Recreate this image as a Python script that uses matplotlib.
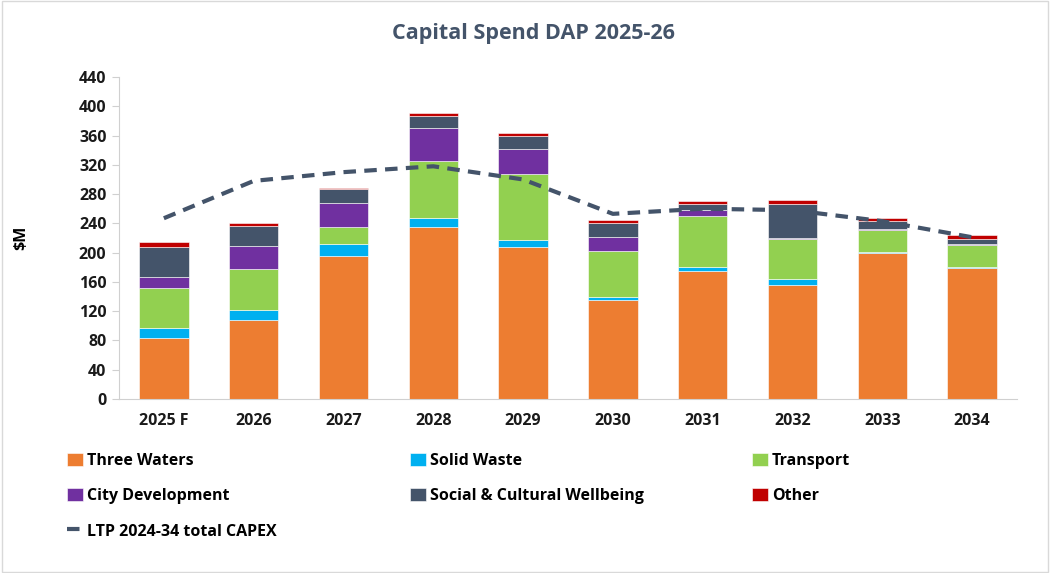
import matplotlib.pyplot as plt
import numpy as np
from matplotlib.patches import Rectangle

plt.rcParams['font.family'] = ['Open Sans', 'DejaVu Sans']

years = ["2025 F", "2026", "2027", "2028", "2029", "2030", "2031", "2032", "2033", "2034"]
three_waters = [84, 108, 196, 235, 208, 135, 175, 156, 200, 179]
solid_waste = [13, 13, 16, 13, 9, 5, 6, 8, 1, 1]
transport = [55, 57, 23, 77, 91, 62, 69, 55, 30, 31]
city_dev = [15, 31, 33, 46, 33, 19, 8, 1, 1, 1]
social = [41, 28, 19, 16, 18, 19, 9, 47, 11, 7]
other = [6, 4, 2, 4, 4, 5, 4, 5, 4, 5]
ltp_total = [247, 298, 310, 318, 300, 253, 260, 258, 243, 221]

series = [
    ("Three Waters", three_waters, "#ED7D31"),
    ("Solid Waste", solid_waste, "#00B0F0"),
    ("Transport", transport, "#92D050"),
    ("City Development", city_dev, "#7030A0"),
    ("Social & Cultural Wellbeing", social, "#44546A"),
    ("Other", other, "#C00000"),
]

fig = plt.figure(figsize=(10.5, 5.73), dpi=100)
ax = fig.add_axes([0.1133, 0.3037, 0.8553, 0.5619])

x = np.arange(len(years))
bottom = np.zeros(len(years))
handles = {}
for name, vals, color in series:
    b = ax.bar(x, vals, width=0.55, bottom=bottom, color=color, label=name,
               edgecolor="white", linewidth=0.4)
    handles[name] = b
    bottom += np.array(vals)

line, = ax.plot(x, ltp_total, color="#44546A", linestyle=(0, (3, 2)), lw=3,
                label="LTP 2024-34 total CAPEX")

ax.set_xlim(-0.5, len(years) - 0.5)
ax.set_ylim(0, 440)
ax.set_yticks(np.arange(0, 441, 40))
ax.set_xticks(x)
ax.set_xticklabels(years)
for lab in ax.get_xticklabels() + ax.get_yticklabels():
    lab.set_fontweight("bold")
    lab.set_fontsize(11.5)
    lab.set_color("#1a1a1a")
ax.tick_params(axis="x", length=0, pad=10)
ax.tick_params(axis="y", length=5, color="#d0d0d0", pad=4)
for s in ["top", "right"]:
    ax.spines[s].set_visible(False)
for s in ["left", "bottom"]:
    ax.spines[s].set_color("#d0d0d0")

ax.set_ylabel("\\$M", fontsize=11.5, fontweight="bold", labelpad=36)

fig.text(0.508, 0.942, "Capital Spend DAP 2025-26", ha="center", va="center",
         fontsize=15.5, fontweight="bold", color="#44546A")

# legend laid out row by row in three columns
cols = [
    [handles["Three Waters"], handles["City Development"], line],
    [handles["Solid Waste"], handles["Social & Cultural Wellbeing"]],
    [handles["Transport"], handles["Other"]],
]
col_x = [0.058, 0.384, 0.710]
for hs, cx in zip(cols, col_x):
    leg = fig.legend(handles=hs, loc="upper left", bbox_to_anchor=(cx, 0.221),
                     frameon=False, prop={"weight": "bold", "size": 11.5},
                     handlelength=1.0, handleheight=0.9, handletextpad=0.25,
                     labelspacing=1.2, borderaxespad=0)

fig.patches.append(Rectangle((0.002, 0.002), 0.996, 0.996, transform=fig.transFigure,
                             fill=False, edgecolor="#d9d9d9", lw=1))

fig.savefig("out.png", dpi=100)
